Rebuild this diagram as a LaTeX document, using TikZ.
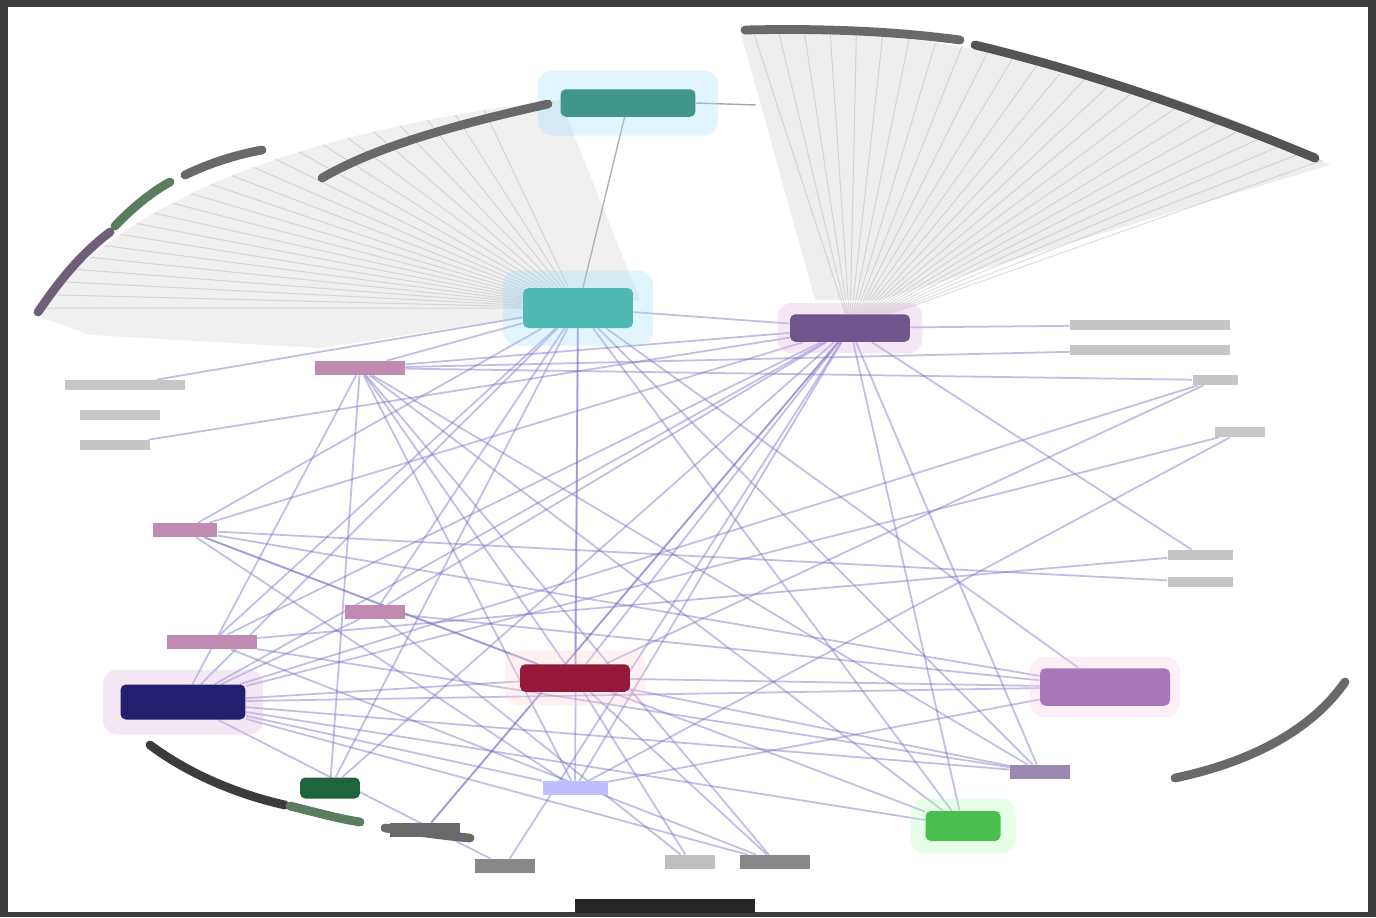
\documentclass[tikz,border=0pt]{standalone}
\usepackage{tikz}
\usetikzlibrary{arrows.meta,positioning,calc,backgrounds}
\usepackage{xcolor}
\definecolor{framegray}{RGB}{60,60,60}
\definecolor{arcgray}{RGB}{105,105,105}
\definecolor{arcplum}{RGB}{110,95,118}
\definecolor{arcgreen}{RGB}{90,125,95}
\definecolor{tealdark}{RGB}{64,150,140}
\definecolor{tealmid}{RGB}{80,185,180}
\definecolor{plumdark}{RGB}{110,85,140}
\definecolor{navy}{RGB}{35,30,110}
\definecolor{crimson}{RGB}{150,25,60}
\definecolor{orchid}{RGB}{170,120,185}
\definecolor{leaf}{RGB}{75,190,80}
\definecolor{forest}{RGB}{30,100,60}
\definecolor{mauve}{RGB}{175,110,160}
\definecolor{lavedge}{RGB}{120,110,200}

\begin{document}
\begin{tikzpicture}[
    x=0.02cm, y=-0.02cm,
    hub/.style={
        rectangle, rounded corners=3pt,
        inner sep=0pt, draw=none
    },
    halo/.style={
        rectangle, rounded corners=8pt,
        inner sep=0pt, draw=none, opacity=0.3
    },
    tag/.style={
        rectangle, inner sep=0pt, draw=none,
        minimum height=0.28cm, fill=mauve!80
    },
    note/.style={
        rectangle, inner sep=0pt, draw=none,
        minimum height=0.2cm, fill=gray!45
    },
    link/.style={lavedge, opacity=0.45, line width=1pt},
    fan/.style={gray!70, opacity=0.35, line width=0.6pt},
    rim/.style={line width=5pt, line cap=round}
]

% Frame and fans
\useasboundingbox (0,0) rectangle (1376,917);
\begin{scope}[on background layer]
\fill[framegray] (0,0) rectangle (1376,917);
\fill[white] (8,7) rectangle (1368,912);
\fill[gray!25, opacity=0.5] (740,30) .. controls (950,25) and (1200,90) .. (1330,165)
    -- (880,300) -- (815,300) -- cycle;
\fill[gray!22, opacity=0.5] (35,315) .. controls (120,200) and (300,130) .. (560,100)
    -- (640,300) -- (320,348) -- (90,335) -- cycle;
\end{scope}

% Hubs
\node[halo, fill=cyan!40, minimum width=3.6cm, minimum height=1.3cm] at (628,103) {};
\node[hub, fill=tealdark, minimum width=2.7cm, minimum height=0.55cm] (top) at (628,103) {};
\node[halo, fill=cyan!40, minimum width=3.0cm, minimum height=1.5cm] at (578,308) {};
\node[hub, fill=tealmid, minimum width=2.2cm, minimum height=0.8cm] (core) at (578,308) {};
\node[halo, fill=violet!30, minimum width=2.9cm, minimum height=1.0cm] at (850,328) {};
\node[hub, fill=plumdark, minimum width=2.4cm, minimum height=0.55cm] (plum) at (850,328) {};
\node[halo, fill=violet!30, minimum width=3.2cm, minimum height=1.3cm] at (183,702) {};
\node[hub, fill=navy, minimum width=2.5cm, minimum height=0.7cm] (navy) at (183,702) {};
\node[halo, fill=pink!70, minimum width=2.8cm, minimum height=1.1cm] at (575,678) {};
\node[hub, fill=crimson, minimum width=2.2cm, minimum height=0.55cm] (red) at (575,678) {};
\node[halo, fill=magenta!20, minimum width=3.0cm, minimum height=1.2cm] at (1105,687) {};
\node[hub, fill=orchid, minimum width=2.6cm, minimum height=0.75cm] (orchid) at (1105,687) {};
\node[halo, fill=green!30, minimum width=2.1cm, minimum height=1.1cm] at (963,826) {};
\node[hub, fill=leaf, minimum width=1.5cm, minimum height=0.6cm] (leaf) at (963,826) {};
\node[hub, fill=forest, minimum width=1.2cm, minimum height=0.42cm] (forest) at (330,788) {};

% Small tags
\node[tag, minimum width=1.8cm] (t1) at (360,368) {};
\node[tag, minimum width=1.3cm] (t2) at (185,530) {};
\node[tag, minimum width=1.2cm] (t3) at (375,612) {};
\node[tag, minimum width=1.8cm] (t4) at (212,642) {};
\node[tag, minimum width=1.2cm, fill=plumdark!70] (t5) at (1040,772) {};
\node[tag, minimum width=1.4cm, fill=arcgray] (t6) at (425,830) {};
\node[tag, minimum width=1.2cm, fill=arcgray!80] (t7) at (505,866) {};
\node[tag, minimum width=1.0cm, fill=gray!50] (t8) at (690,862) {};
\node[tag, minimum width=1.4cm, fill=arcgray!80] (t9) at (775,862) {};
\node[tag, minimum width=1.3cm, fill=blue!25] (t10) at (575,788) {};

% Side notes
\node[note, minimum width=2.4cm] (n1) at (125,385) {};
\node[note, minimum width=1.6cm] (n2) at (120,415) {};
\node[note, minimum width=1.4cm] (n3) at (115,445) {};
\node[note, minimum width=3.2cm] (n4) at (1150,325) {};
\node[note, minimum width=3.2cm] (n5) at (1150,350) {};
\node[note, minimum width=0.9cm] (n6) at (1215,380) {};
\node[note, minimum width=1.0cm] (n7) at (1240,432) {};
\node[note, minimum width=1.3cm] (n8) at (1200,555) {};
\node[note, minimum width=1.3cm] (n9) at (1200,582) {};

% Links (behind the hubs)
\begin{scope}[on background layer]
\foreach \a/\b in {core/t1, core/t2, core/navy, core/red, core/t10, core/leaf,
        core/t5, core/t4, core/plum, core/t3, core/orchid,
        plum/t1, plum/t2, plum/navy, plum/t3, plum/red, plum/t4, plum/t10,
        plum/t6, plum/t5, plum/leaf, plum/t7, plum/n8,
        navy/t1, navy/red, navy/t3, navy/t10, navy/t7, navy/leaf, navy/t5,
        navy/orchid, navy/n7, navy/t9,
        red/t2, red/t9, red/t8, red/orchid, red/t5, red/t1, red/n6,
        t1/t10, t1/leaf, t1/n6, t1/t5, t1/t9,
        t2/orchid, t2/n9, t2/t10, t2/leaf,
        t3/orchid, t3/t8, t4/t5, t4/t9, t4/n8,
        t10/orchid, t10/n7, t6/plum, forest/core, forest/plum, forest/t1,
        n1/core, n3/plum, n4/plum, n5/t1, n6/navy} {
    \draw[link] (\a) -- (\b);
}
\draw[gray!60, line width=0.8pt] (top) -- (core);
\draw[gray!70, line width=0.8pt] (top.east) -- ++(60,2);

% Fan lines to the outer arcs
\foreach \p in {0.02,0.06,...,1} {
    \path (740,30) .. controls (950,25) and (1200,90) .. (1330,165) coordinate[pos=\p] (r);
    \draw[fan] (r) -- (plum);
}
\foreach \p in {0.02,0.06,...,0.9} {
    \path (35,315) .. controls (120,200) and (300,130) .. (560,100) coordinate[pos=\p] (l);
    \draw[fan] (l) -- (core);
}
\end{scope}

% Outer arcs
\draw[rim, arcplum] (38,312) .. controls (60,280) and (80,255) .. (110,232);
\draw[rim, arcgreen] (115,226) .. controls (135,205) and (155,190) .. (170,182);
\draw[rim, arcgray] (185,175) .. controls (210,163) and (235,155) .. (262,150);
\draw[rim, arcgray] (322,178) .. controls (370,150) and (440,128) .. (548,104);
\draw[rim, arcgray] (745,30) .. controls (830,28) and (900,32) .. (960,40);
\draw[rim, arcgray!80!black] (975,45) .. controls (1080,70) and (1200,110) .. (1315,158);
\draw[rim, framegray] (150,745) .. controls (190,775) and (240,795) .. (285,805);
\draw[rim, arcgreen] (290,806) .. controls (315,812) and (335,818) .. (360,822);
\draw[rim, arcgray] (385,828) .. controls (420,832) and (445,836) .. (470,838);
\draw[line width=8pt, black!85] (575,906) -- (755,906);
\draw[rim, arcgray] (1175,778) .. controls (1260,760) and (1315,725) .. (1345,682);

\end{tikzpicture}
\end{document}
